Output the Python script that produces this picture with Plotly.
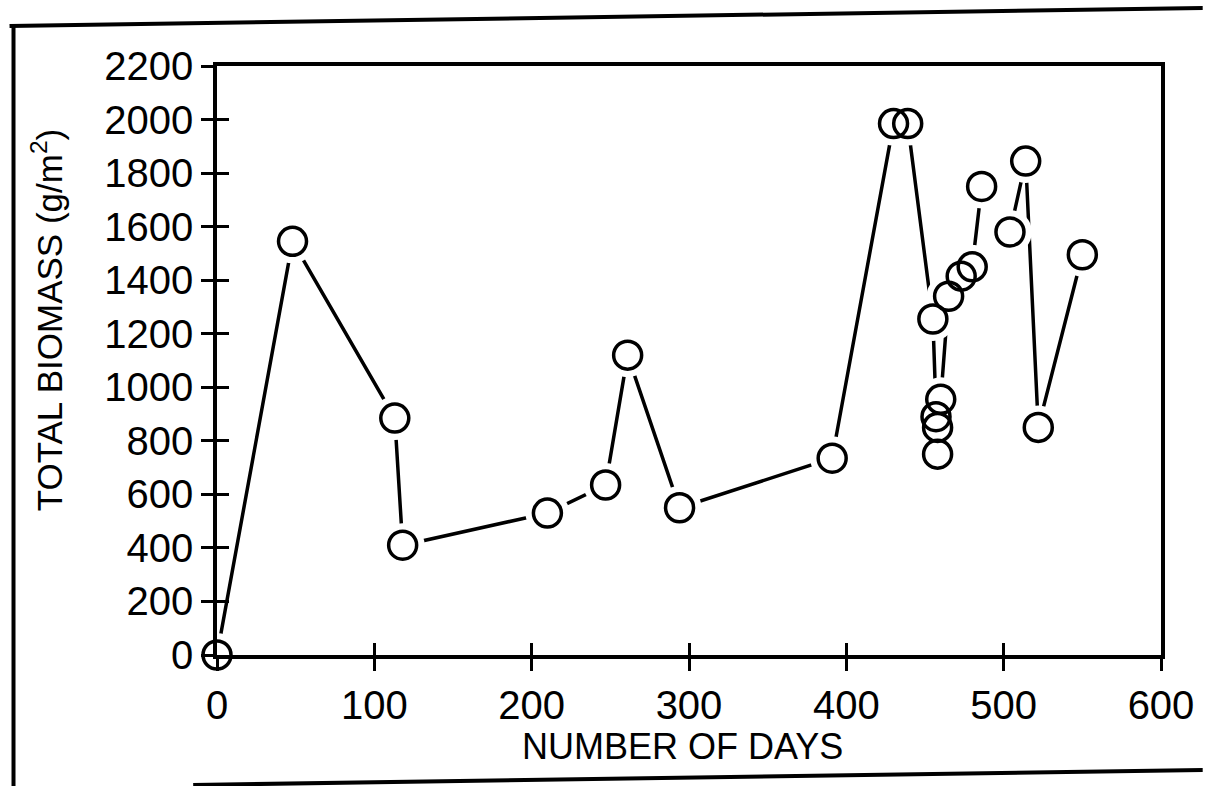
import plotly.graph_objects as go

# ---- data ----
days_a = [0, 48, 113, 118, 210, 247, 261, 294, 391, 430, 439, 455, 458, 458, 457, 460, 465, 473, 480, 486]
biomass_a = [0, 1545, 885, 410, 530, 635, 1120, 550, 735, 1985, 1985, 1255, 750, 850, 890, 955, 1340, 1415, 1450, 1750]
days_b = [504, 514, 522, 550]
biomass_b = [1580, 1845, 850, 1495]

x_ticks = [0, 100, 200, 300, 400, 500, 600]
y_ticks = [0, 200, 400, 600, 800, 1000, 1200, 1400, 1600, 1800, 2000, 2200]

W, H = 1206, 786
L, R, T, B = 217, 38, 66, 131
PW, PH = W - L - R, H - T - B


def px(x):
    return (x - L) / PW


def py(y):
    return (H - B - y) / PH


FONT = "Liberation Sans, Arial, Helvetica, sans-serif"
BLACK = "#000000"

fig = go.Figure()

for dx, by in ((days_a, biomass_a), (days_b, biomass_b)):
    fig.add_trace(go.Scatter(x=dx, y=by, mode="lines",
                             line=dict(color=BLACK, width=3.5),
                             cliponaxis=False, showlegend=False, hoverinfo="skip"))
for dx, by in ((days_a, biomass_a), (days_b, biomass_b)):
    fig.add_trace(go.Scatter(x=dx, y=by, mode="markers",
                             marker=dict(symbol="circle", size=44, color="white",
                                         line=dict(width=0)),
                             cliponaxis=False, showlegend=False, hoverinfo="skip"))
for dx, by in ((days_a, biomass_a), (days_b, biomass_b)):
    fig.add_trace(go.Scatter(x=dx, y=by, mode="markers",
                             marker=dict(symbol="circle-open", size=28, color=BLACK,
                                         line=dict(width=3.5, color=BLACK)),
                             cliponaxis=False, showlegend=False))

# helper trace so the overlay axes (inner half of the crossing ticks) are drawn
fig.add_trace(go.Scatter(x=[0], y=[0], xaxis="x2", yaxis="y2", mode="markers",
                         marker=dict(opacity=0), showlegend=False, hoverinfo="skip"))

axis_common = dict(showgrid=False, zeroline=False, showline=True, linecolor=BLACK,
                   linewidth=3.5, ticks="outside", ticklen=12, tickwidth=3, tickcolor=BLACK,
                   tickfont=dict(family=FONT, size=40, color=BLACK), mirror=True)

fig.update_layout(
    width=W, height=H, autosize=False,
    margin=dict(l=L, r=R, t=T, b=B, pad=0),
    paper_bgcolor="white", plot_bgcolor="white",
    xaxis=dict(range=[0, 600], tickmode="array", tickvals=x_ticks,
               ticktext=[str(v) for v in x_ticks], **axis_common),
    yaxis=dict(range=[0, 2200], tickmode="array", tickvals=y_ticks,
               ticktext=[str(v) for v in y_ticks], **axis_common),
    xaxis2=dict(range=[0, 600], overlaying="x", side="bottom", tickmode="array",
                tickvals=x_ticks, ticks="inside", ticklen=12, tickwidth=3,
                tickcolor=BLACK, showticklabels=False, showgrid=False,
                zeroline=False, showline=False),
    yaxis2=dict(range=[0, 2200], overlaying="y", side="left", tickmode="array",
                tickvals=y_ticks, ticks="inside", ticklen=12, tickwidth=3,
                tickcolor=BLACK, showticklabels=False, showgrid=False,
                zeroline=False, showline=False),
)

fig.add_annotation(text="NUMBER OF DAYS", xref="paper", yref="paper",
                   x=px(686), y=py(746), xanchor="center", yanchor="middle",
                   showarrow=False, font=dict(family=FONT, size=36, color=BLACK))
fig.add_annotation(text="TOTAL BIOMASS (g/m<sup>2</sup>)", xref="paper", yref="paper",
                   x=px(46), y=py(320), xanchor="center", yanchor="middle",
                   textangle=-90, showarrow=False,
                   font=dict(family=FONT, size=35, color=BLACK))

# outer frame of the scanned figure
frame = [((12, 25), (12, 790)), ((8, 26), (1210, 8)), ((193, 785), (1210, 770))]
for (x0, y0), (x1, y1) in frame:
    fig.add_shape(type="line", xref="paper", yref="paper",
                  x0=px(x0), y0=py(y0), x1=px(x1), y1=py(y1),
                  line=dict(color=BLACK, width=4))

fig.write_html("out.html", config={"displayModeBar": False},
               post_script="document.body.style.margin='0';document.body.style.overflow='hidden';")
